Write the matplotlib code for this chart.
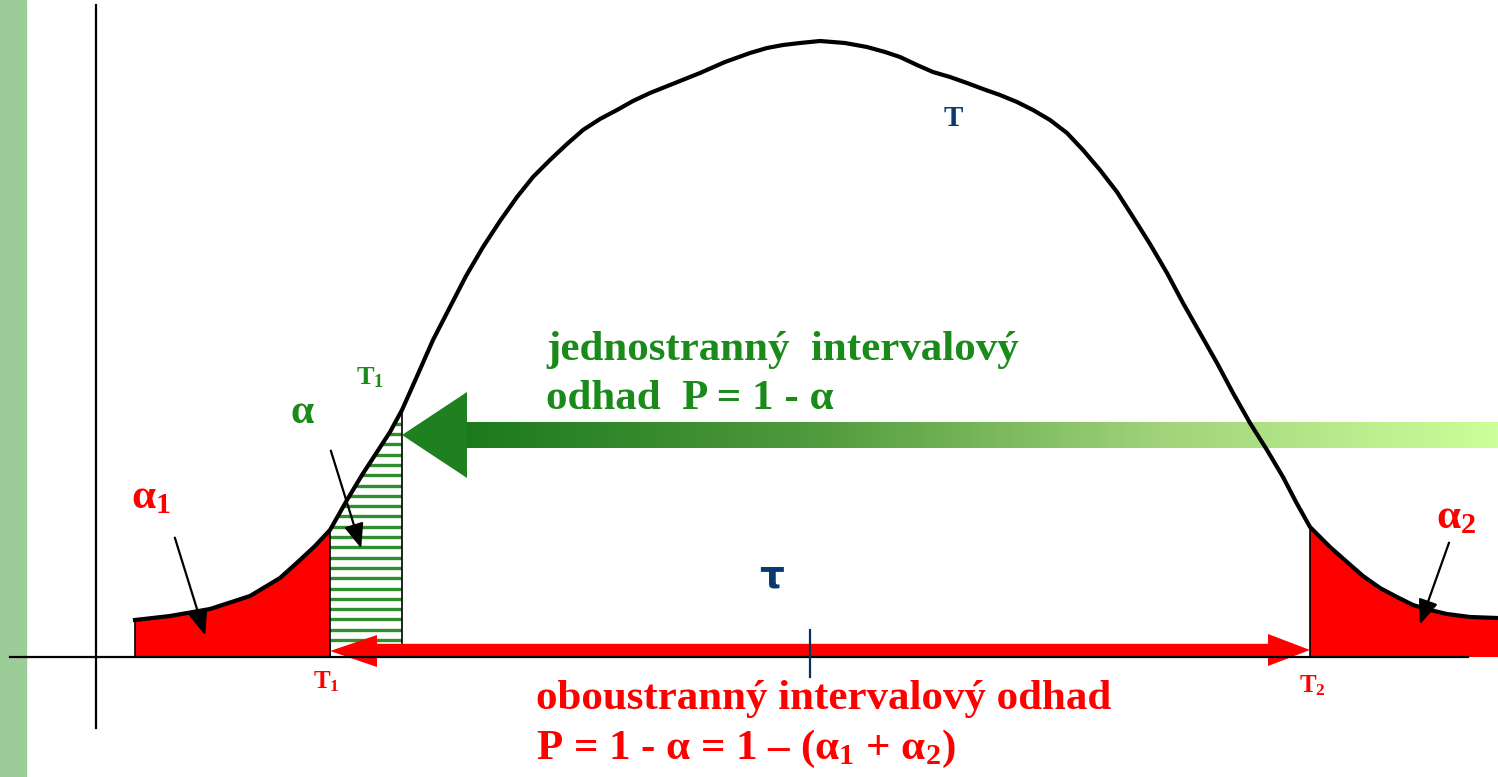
import numpy as np
import matplotlib
matplotlib.use("Agg")
import matplotlib.pyplot as plt
from matplotlib.patches import Polygon, Rectangle
from matplotlib.colors import LinearSegmentedColormap

plt.rcParams['mathtext.fontset'] = 'custom'
plt.rcParams['mathtext.rm'] = 'Liberation Serif:bold'
plt.rcParams['mathtext.it'] = 'Liberation Serif:bold'
plt.rcParams['mathtext.bf'] = 'Liberation Serif:bold'

# ---- data (pixel-like diagram coordinates) ----
curve_x = [135, 170, 210, 250, 280, 300, 315, 330, 347, 362, 377, 390, 402, 418, 433,
           450, 466, 483, 500, 517, 533, 550, 567, 583, 600, 617, 633, 650, 675, 700,
           725, 750, 767, 783, 800, 820, 845, 867, 885, 900, 917, 933, 950, 967, 983,
           1000, 1017, 1033, 1050, 1067, 1083, 1100, 1117, 1133, 1150, 1167, 1183, 1200,
           1217, 1233, 1250, 1267, 1283, 1296, 1310, 1330, 1347, 1363, 1380, 1397, 1413,
           1430, 1447, 1470, 1498]
curve_y = [620, 616, 609, 596, 578, 560, 546, 530, 500, 475, 452, 432, 410, 374, 340,
           307, 276, 247, 221, 197, 177, 160, 144, 130, 119, 110, 101, 93, 83, 73,
           62, 53, 48, 45, 43, 41, 43, 47, 52, 57, 65, 72, 77, 83, 89,
           95, 102, 110, 120, 133, 150, 170, 192, 217, 244, 273, 303, 333,
           363, 393, 423, 450, 477, 502, 527, 547, 562, 576, 588, 597, 605,
           610, 614, 617, 618]

t1_red_x = 330      # two-sided lower bound
t1_green_x = 402    # one-sided bound
t2_x = 1310         # two-sided upper bound
tau_x = 810
baseline_y = 657

# ---- figure ----
fig = plt.figure(figsize=(14.98, 7.77), dpi=100)
ax = fig.add_axes([0, 0, 1, 1])
ax.set_xlim(0, 1498)
ax.set_ylim(777, 0)
ax.axis('off')

cx = np.array(curve_x, float)
cy = np.array(curve_y, float)

# green strip on the left
ax.add_patch(Rectangle((0, 0), 26, 777, color='#9ccc98', zorder=0))

# axes
ax.plot([96, 96], [5, 728], color='black', lw=1.6, zorder=2)
ax.plot([10, 1468], [baseline_y, baseline_y], color='black', lw=1.6, zorder=6)

# red tail alpha1
m = (cx >= 135) & (cx <= t1_red_x)
xs = np.concatenate([[135], cx[m], [t1_red_x, t1_red_x, 135]])
ys = np.concatenate([[baseline_y], cy[m], [np.interp(t1_red_x, cx, cy), baseline_y, baseline_y]])
ax.add_patch(Polygon(np.column_stack([xs, ys]), closed=True, facecolor='#ff0000',
                     edgecolor='black', lw=1.2, zorder=3))

# red tail alpha2
m = cx >= t2_x
xs = np.concatenate([[t2_x], [t2_x], cx[m], [1498]])
ys = np.concatenate([[baseline_y], [np.interp(t2_x, cx, cy)], cy[m], [baseline_y]])
ax.add_patch(Polygon(np.column_stack([xs, ys]), closed=True, facecolor='#ff0000',
                     edgecolor='none', zorder=3))
ax.plot([t2_x, t2_x], [baseline_y, np.interp(t2_x, cx, cy)], color='black', lw=1.2, zorder=4)

# green hatched region
m = (cx >= t1_red_x) & (cx <= t1_green_x)
hb = 643
xs = np.concatenate([[t1_red_x], [t1_red_x], cx[m], [t1_green_x], [t1_green_x]])
ys = np.concatenate([[hb], [np.interp(t1_red_x, cx, cy)], cy[m],
                     [np.interp(t1_green_x, cx, cy)], [hb]])
hpoly = Polygon(np.column_stack([xs, ys]), closed=True, facecolor='white',
                edgecolor='none', zorder=3)
ax.add_patch(hpoly)
for yy in np.arange(hb - 3, 400, -10.3):
    ln, = ax.plot([t1_red_x, t1_green_x], [yy, yy], color='#2f8f2f', lw=2.4, zorder=3.5)
    ln.set_clip_path(hpoly)
ax.plot([t1_green_x, t1_green_x], [hb, np.interp(t1_green_x, cx, cy)], color='black', lw=1.2, zorder=4)
ax.plot([t1_red_x, t1_red_x], [baseline_y, np.interp(t1_red_x, cx, cy)], color='black', lw=1.2, zorder=4)

# main curve
ax.plot(cx, cy, color='black', lw=3, solid_joinstyle='round', zorder=5)

# green gradient arrow
shaft_top, shaft_bot = 422, 448
cmap = LinearSegmentedColormap.from_list('g', ['#1c7a1c', '#4f9a3c', '#9fd27a', '#ccff99'])
grad = np.linspace(0, 1, 512).reshape(1, -1)
ax.imshow(grad, cmap=cmap, extent=[465, 1498, shaft_bot, shaft_top], aspect='auto', zorder=4)
ax.add_patch(Polygon([[402, 435], [467, 392], [467, 478]], closed=True,
                     facecolor='#1f801f', edgecolor='none', zorder=4))

# red double arrow
red_y = 650
ax.add_patch(Rectangle((372, red_y - 6), 1278 - 372, 12, color='#ff0000', zorder=5))
ax.add_patch(Polygon([[t1_red_x, red_y + 1], [377, 635], [377, 667]], closed=True,
                     facecolor='#ff0000', edgecolor='none', zorder=5))
ax.add_patch(Polygon([[t2_x, red_y], [1268, 634], [1268, 666]], closed=True,
                     facecolor='#ff0000', edgecolor='none', zorder=5))

# tau tick
ax.plot([tau_x, tau_x], [630, 677], color='#0b2f5e', lw=1.6, zorder=7)

# black pointer arrows
arrow_kw = dict(arrowstyle='-|>,head_length=1.5,head_width=0.6', color='black', lw=1.6)
ax.annotate('', xy=(206, 638), xytext=(174, 535), arrowprops=arrow_kw, zorder=8)
ax.annotate('', xy=(362, 551), xytext=(330, 448), arrowprops=arrow_kw, zorder=8)
ax.annotate('', xy=(1419, 627), xytext=(1450, 540), arrowprops=arrow_kw, zorder=8)

serif = 'Liberation Serif'
green = '#1a8a1a'
red = '#ff0000'
navy = '#0b3a6e'

ax.text(953, 119, 'T', color=navy, fontsize=21, fontweight='bold', family=serif,
        ha='center', va='center')
ax.text(772, 576, 'τ', color=navy, fontsize=28, fontweight='bold', family='DejaVu Sans',
        ha='center', va='center')

ax.text(546, 350, 'jednostranný  intervalový', color=green, fontsize=31,
        fontweight='bold', family=serif, ha='left', va='center')
ax.text(546, 399, 'odhad  P = 1 - α', color=green, fontsize=31,
        fontweight='bold', family=serif, ha='left', va='center')
ax.text(356, 378, 'T$_1$', color=green, fontsize=19, fontweight='bold', family=serif,
        ha='left', va='center')
ax.text(302, 413, 'α', color=green, fontsize=30, fontweight='bold', family=serif,
        ha='center', va='center')

ax.text(131, 498, 'α$_1$', color=red, fontsize=31, fontweight='bold', family=serif,
        ha='left', va='center')
ax.text(1436, 518, 'α$_2$', color=red, fontsize=31, fontweight='bold', family=serif,
        ha='left', va='center')
ax.text(313, 682, 'T$_1$', color=red, fontsize=18, fontweight='bold', family=serif,
        ha='left', va='center')
ax.text(1299, 686, 'T$_2$', color=red, fontsize=18, fontweight='bold', family=serif,
        ha='left', va='center')

ax.text(536, 699, 'oboustranný intervalový odhad', color=red, fontsize=31,
        fontweight='bold', family=serif, ha='left', va='center')
ax.text(536, 749, 'P = 1 - α = 1 – (α$_1$ + α$_2$)', color=red, fontsize=31,
        fontweight='bold', family=serif, ha='left', va='center')

fig.savefig('out.png', dpi=100)
